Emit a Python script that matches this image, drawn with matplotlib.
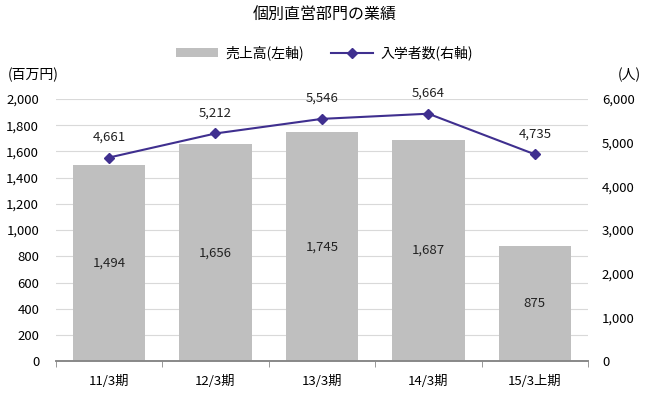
import matplotlib
matplotlib.use('Agg')
import matplotlib.pyplot as plt
import numpy as np

plt.rcParams['font.family'] = ['Noto Sans CJK JP', 'DejaVu Sans']

categories = ['11/3期', '12/3期', '13/3期', '14/3期', '15/3上期']
sales = [1494, 1656, 1745, 1687, 875]
students = [4661, 5212, 5546, 5664, 4735]

BAR_COLOR = '#bfbfbf'
LINE_COLOR = '#3f2f8f'
GRID_COLOR = '#d9d9d9'

fig = plt.figure(figsize=(6.49, 3.93), dpi=100)
ax = fig.add_axes([0.086, 0.081, 0.820, 0.667])
ax2 = ax.twinx()

x = np.arange(len(categories))
bars = ax.bar(x, sales, width=0.68, color=BAR_COLOR, zorder=2, label='売上高(左軸)')
for xi, v in zip(x, sales):
    ax.text(xi, v / 2, f'{v:,}', ha='center', va='center', fontsize=9.5, color='#222222', zorder=3)

line, = ax2.plot(x, students, color=LINE_COLOR, marker='D', markersize=5.5,
                 linewidth=1.5, label='入学者数(右軸)', zorder=4)
for xi, v in zip(x, students):
    ax2.annotate(f'{v:,}', (xi, v), xytext=(0, 10), textcoords='offset points',
                 ha='center', va='bottom', fontsize=9.5, color='#222222')

ax.set_xlim(-0.5, len(categories) - 0.5)
ax.set_ylim(0, 2000)
ax.set_yticks(np.arange(0, 2001, 200))
ax.set_yticklabels([f'{v:,}' for v in range(0, 2001, 200)])
ax2.set_ylim(0, 6000)
ax2.set_yticks(np.arange(0, 6001, 1000))
ax2.set_yticklabels([f'{v:,}' for v in range(0, 6001, 1000)])

ax.set_xticks(x)
ax.set_xticklabels(categories)
ax.set_xticks(np.arange(-0.5, len(categories)), minor=True)
ax.tick_params(axis='x', which='major', length=0, pad=10, labelsize=9.5)
ax.tick_params(axis='x', which='minor', length=4, color='#888888', direction='out')
ax.tick_params(axis='y', length=0, labelsize=9.5, pad=12)
ax2.tick_params(axis='y', length=0, labelsize=9.5, pad=10)

ax.grid(axis='y', color=GRID_COLOR, linewidth=0.8, zorder=0)
ax.set_axisbelow(True)
for a in (ax, ax2):
    for s in ['top', 'left', 'right']:
        a.spines[s].set_visible(False)
    a.spines['bottom'].set_color('#888888')
    a.spines['bottom'].set_linewidth(1.2)

fig.text(0.5, 0.962, '個別直営部門の業績', ha='center', va='center', fontsize=11.5)
fig.text(0.012, 0.81, '(百万円)', ha='left', va='center', fontsize=10)
fig.text(0.988, 0.81, '(人)', ha='right', va='center', fontsize=10)

fig.legend(handles=[bars, line], loc='center', bbox_to_anchor=(0.5, 0.865), ncol=2,
           frameon=False, fontsize=10, handlelength=3.0, handleheight=0.6,
           handletextpad=0.5, columnspacing=2.0)

fig.savefig('out.png', dpi=100)
